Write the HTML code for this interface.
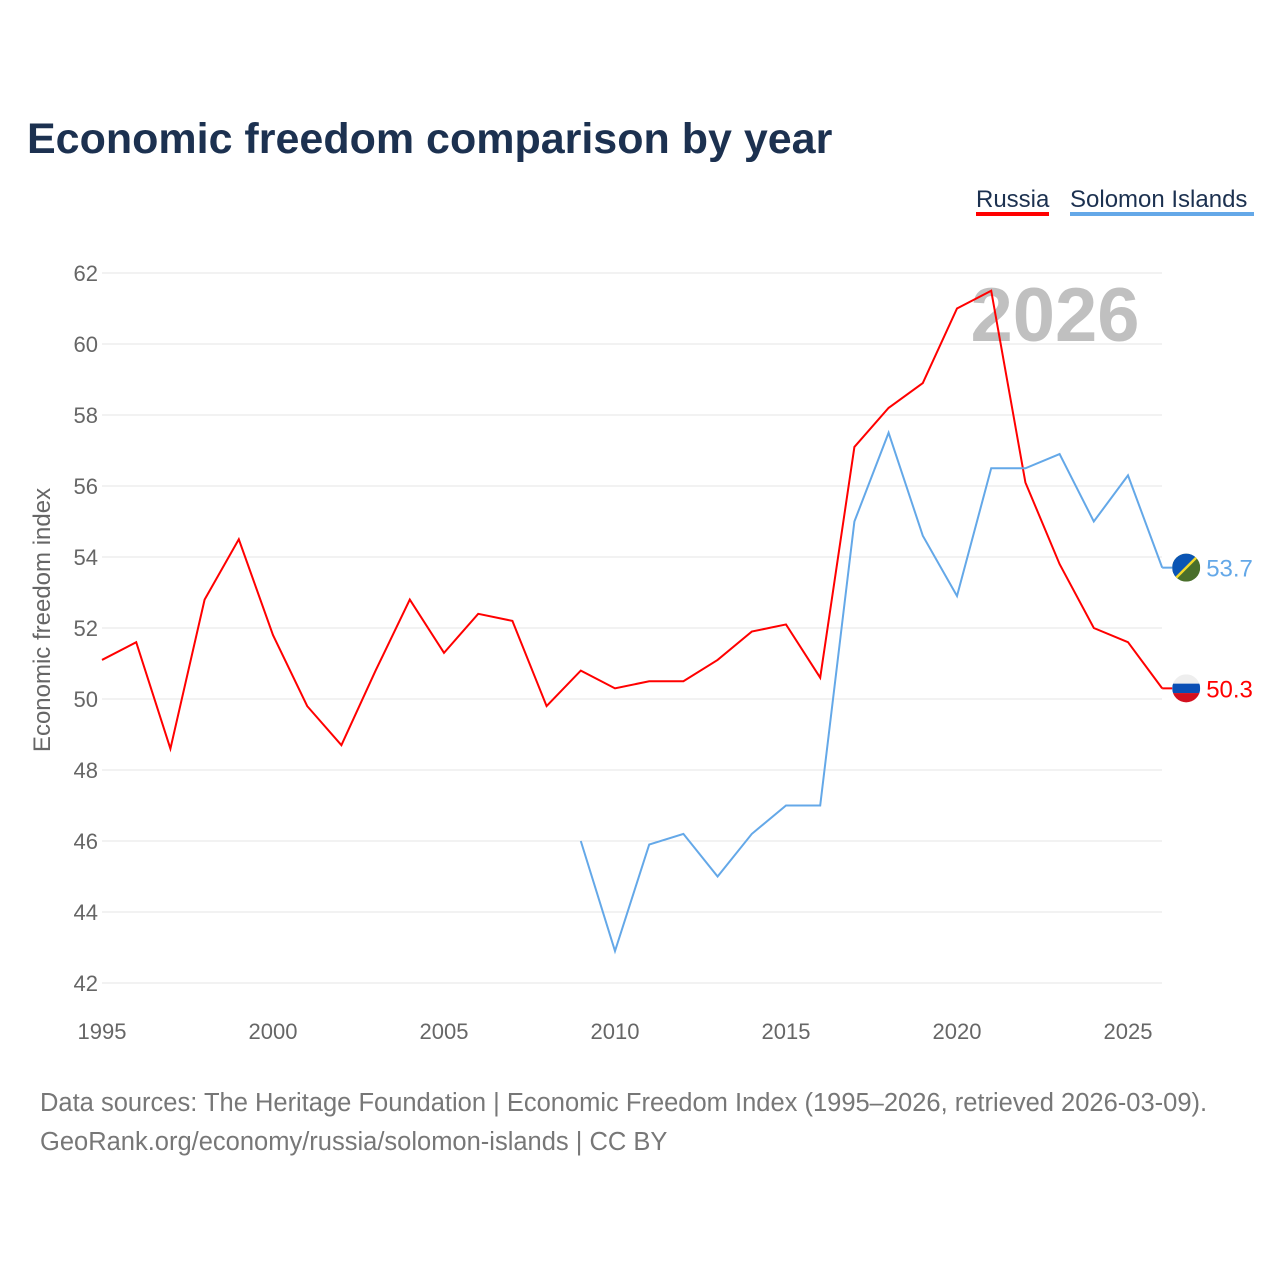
<!DOCTYPE html>
<html><head><meta charset="utf-8"><style>
body{margin:0;background:#fff;font-family:"Liberation Sans",sans-serif;}
#wrap{position:relative;width:1280px;height:1280px;overflow:hidden;}
</style></head><body>
<div id="wrap">
<svg id="chart" width="1280" height="1280" xmlns="http://www.w3.org/2000/svg">
<text x="27" y="153" font-size="43" font-weight="bold" fill="#1c3150">Economic freedom comparison by year</text>
<g>
<text x="976" y="207" font-size="24" fill="#1c3150">Russia</text>
<rect x="976" y="212" width="73" height="4" fill="#ff0000"/>
<text x="1070" y="207" font-size="24" fill="#1c3150">Solomon Islands</text>
<rect x="1070" y="212" width="184" height="4" fill="#64a8e8"/>
</g>
<g id="grid"></g>
<g id="yticks"></g>
<g id="xticks"></g>
<text x="1055" y="341" font-size="76" font-weight="bold" fill="#c0c0c0" text-anchor="middle">2026</text>
<text transform="translate(50,620) rotate(-90)" font-size="24" fill="#666" text-anchor="middle">Economic freedom index</text>
<g id="series"></g>
<text x="40" y="1111" font-size="25.5" fill="#777">Data sources: The Heritage Foundation | Economic Freedom Index (1995–2026, retrieved 2026-03-09).</text>
<text x="40" y="1150" font-size="25.5" fill="#777">GeoRank.org/economy/russia/solomon-islands | CC BY</text>
</svg>
</div>
<script>
const russiaYears=[1995,1996,1997,1998,1999,2000,2001,2002,2003,2004,2005,2006,2007,2008,2009,2010,2011,2012,2013,2014,2015,2016,2017,2018,2019,2020,2021,2022,2023,2024,2025,2026];
const russiaValues=[51.1,51.6,48.6,52.8,54.5,51.8,49.8,48.7,50.8,52.8,51.3,52.4,52.2,49.8,50.8,50.3,50.5,50.5,51.1,51.9,52.1,50.6,57.1,58.2,58.9,61.0,61.5,56.1,53.8,52.0,51.6,50.3];
const solomonYears=[2009,2010,2011,2012,2013,2014,2015,2016,2017,2018,2019,2020,2021,2022,2023,2024,2025,2026];
const solomonValues=[46.0,42.9,45.9,46.2,45.0,46.2,47.0,47.0,55.0,57.5,54.6,52.9,56.5,56.5,56.9,55.0,56.3,53.7];
const yTicks=[42,44,46,48,50,52,54,56,58,60,62];
const xTicks=[1995,2000,2005,2010,2015,2020,2025];
const NS="http://www.w3.org/2000/svg";
const X=y=>102+(y-1995)*(1026/30);
const Y=v=>273+(62-v)*35.5;
function mk(t,a,p){const e=document.createElementNS(NS,t);for(const k in a)e.setAttribute(k,a[k]);p.appendChild(e);return e;}
const grid=document.getElementById('grid'),yt=document.getElementById('yticks'),xt=document.getElementById('xticks'),ser=document.getElementById('series');
yTicks.forEach(v=>{
 const l=mk('line',{x1:102,x2:1162,y1:Y(v),y2:Y(v),stroke:'#e6e6e6','stroke-width':1},grid);
 
 
 const t=mk('text',{x:98,y:Y(v)+8,'font-size':22,fill:'#666','text-anchor':'end'},yt);
 t.textContent=v;
 
 
});
xTicks.forEach(v=>{
 const t=mk('text',{x:X(v),y:1039,'font-size':22,fill:'#666','text-anchor':'middle'},xt);
 t.textContent=v;
 
 
});
function line(years,vals,color,name){
 const p=mk('polyline',{points:years.map((y,i)=>X(y)+','+Y(vals[i])).join(' '),fill:'none',stroke:color,'stroke-width':2,'stroke-linejoin':'miter'},ser);
 
 
 const lx=X(years[years.length-1]),ly=Y(vals[vals.length-1]);
 const s=mk('line',{x1:lx,x2:lx+10,y1:ly,y2:ly,stroke:color,'stroke-width':2},ser);
 
 
 const t=mk('text',{x:lx+44,y:ly+9,'font-size':24,fill:color},ser);
 t.textContent=vals[vals.length-1].toFixed(1);
 
 
 return [lx+24,ly];
}
const [rx,ry]=line(russiaYears,russiaValues,'#ff0000','russia');
const [sx,sy]=line(solomonYears,solomonValues,'#64a8e8','solomon');
const defs=mk('defs',{},document.getElementById('chart'));
const c1=mk('clipPath',{id:'cr'},defs);mk('circle',{cx:rx,cy:ry,r:14},c1);
const c2=mk('clipPath',{id:'cs'},defs);mk('circle',{cx:sx,cy:sy,r:14},c2);
const rf=mk('g',{'clip-path':'url(#cr)'},ser);


mk('rect',{x:rx-14,y:ry-14,width:28,height:10,fill:'#eee'},rf);
mk('rect',{x:rx-14,y:ry-4.7,width:28,height:9.4,fill:'#0a4fb5'},rf);
mk('rect',{x:rx-14,y:ry+4.7,width:28,height:10,fill:'#d3101f'},rf);
const sf=mk('g',{'clip-path':'url(#cs)'},ser);


mk('rect',{x:sx-14,y:sy-14,width:28,height:28,fill:'#4a6f2b'},sf);
mk('polygon',{points:`${sx-14},${sy-14} ${sx+14},${sy-14} ${sx-14},${sy+14}`,fill:'#0b55b4'},sf);
mk('line',{x1:sx-14,y1:sy+14,x2:sx+14,y2:sy-14,stroke:'#f2d82a','stroke-width':2.5},sf);
</script>
</body></html>
